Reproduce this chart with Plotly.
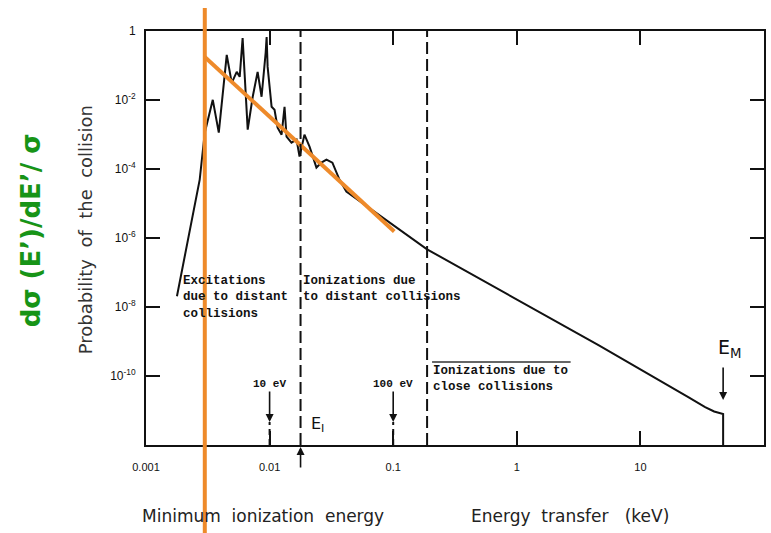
import math
import plotly.graph_objects as go

# ---- data -------------------------------------------------------------
# energy transfer (keV) and collision probability along the curve
energy_kev = [
    0.00178, 0.00272, 0.00299, 0.00347, 0.00388, 0.00450, 0.00494, 0.00542,
    0.00573, 0.00605, 0.00665, 0.00730, 0.00800, 0.00861, 0.00929, 0.00946,
    0.00964, 0.01038, 0.01096, 0.01161, 0.01250, 0.01321, 0.01371, 0.01503,
    0.01652, 0.01746, 0.01914, 0.02104, 0.02393, 0.02624, 0.02884, 0.03221,
    0.03673, 0.04178, 0.188, 0.716, 4.58, 24.4, 33.4, 39.5, 46.7, 46.7,
]
probability = [
    2.05e-8, 4.94e-5, 1.13e-3, 1.01e-2, 1.13e-3, 0.202, 0.0314, 0.0653,
    0.0469, 0.628, 1.38e-3, 0.0124, 0.0653, 0.0124, 0.231, 0.671,
    0.0912, 6.35e-3, 5.21e-3, 1.57e-3, 9.86e-4, 6.35e-3, 8.63e-4, 5.79e-4,
    7.08e-4, 2.28e-4, 9.86e-4, 4.44e-4, 1.10e-4, 1.53e-4, 1.87e-4, 1.53e-4,
    4.94e-5, 2.22e-5, 4.69e-7, 3.27e-8, 7.87e-10, 2.46e-11, 1.26e-11,
    9.35e-12, 7.92e-12, 1.0e-12,
]

# straight-line slope guide and the minimum ionization marker
guide_x = [0.00299, 0.102]
guide_y = [0.177, 1.55e-6]
min_ionization_kev = 0.00299

# region boundaries (keV)
e_i_kev = 0.0178
close_boundary_kev = 0.188
e_m_kev = 46.7
marker_10ev_kev = 0.01
marker_100ev_kev = 0.1

x_tickvals = [0.001, 0.01, 0.1, 1, 10, 100]
x_ticktext = ["0.001", "0.01", "0.1", "1", "10", "100"]
y_tickvals = [1, 1e-2, 1e-4, 1e-6, 1e-8, 1e-10]
y_ticktext = ["1", "10<sup>-2</sup>", "10<sup>-4</sup>", "10<sup>-6</sup>",
              "10<sup>-8</sup>", "10<sup>-10</sup>"]

# ---- layout geometry --------------------------------------------------
W, H = 771, 533
PL, PR, PT, PB = 146, 766, 31, 445


def px(xp):
    return (xp - PL) / (PR - PL)


def py(yp):
    return (PB - yp) / (PB - PT)


ORANGE = "#EE8A2A"
INK = "#111111"
MONO = "Liberation Mono"
NB = "\u00a0"

fig = go.Figure()

fig.add_trace(go.Scatter(
    x=energy_kev, y=probability, mode="lines",
    line=dict(color=INK, width=2), showlegend=False, hoverinfo="skip",
))
fig.add_trace(go.Scatter(
    x=guide_x, y=guide_y, mode="lines",
    line=dict(color=ORANGE, width=4), showlegend=False, hoverinfo="skip",
))

shapes = []
# dashed region boundaries
for xv in (e_i_kev, close_boundary_kev):
    shapes.append(dict(type="line", xref="x", yref="paper", x0=xv, x1=xv,
                       y0=0, y1=1, line=dict(color=INK, width=2, dash="12px,5px")))
# short dashed stubs below the 10 eV / 100 eV arrows
for xv in (marker_10ev_kev, marker_100ev_kev):
    shapes.append(dict(type="line", xref="x", yref="paper", x0=xv, x1=xv,
                       y0=0, y1=py(422), line=dict(color=INK, width=2, dash="6px,4px")))
# vertical minimum-ionization marker
shapes.append(dict(type="line", xref="x", yref="paper",
                   x0=min_ionization_kev, x1=min_ionization_kev,
                   y0=py(533), y1=py(8), line=dict(color=ORANGE, width=4)))
# overline of the "close collisions" label
shapes.append(dict(type="line", xref="paper", yref="paper",
                   x0=px(433), x1=px(572), y0=py(362), y1=py(362),
                   line=dict(color="#333", width=1.5)))

annotations = []


def text(xp, yp, s, size=12.5, family=MONO, color=INK, xanchor="left",
         yanchor="top", angle=0, align="left"):
    annotations.append(dict(
        xref="paper", yref="paper", x=px(xp), y=py(yp), text=s,
        showarrow=False, xanchor=xanchor, yanchor=yanchor, align=align,
        textangle=angle, font=dict(family=family, size=size, color=color),
    ))


def arrow(x_kev, yp, ay, label="", size=11):
    # annotations on a log axis take log10 positions
    annotations.append(dict(
        xref="x", yref="paper", x=math.log10(x_kev), y=py(yp), ax=0, ay=ay,
        text=label, showarrow=True, arrowhead=2, arrowsize=1,
        arrowwidth=1.6, arrowcolor=INK, font=dict(family=MONO, size=size, color=INK),
    ))


text(181, 272, "<b>Excitations<br>due to distant<br>collisions</b>")
text(302, 272, "<b>Ionizations due<br>to distant collisions</b>")
text(432, 362, "<b>Ionizations due to<br>close collisions</b>")

# arrows for 10 eV and 100 eV
arrow(marker_10ev_kev, 422, -38, "<b>10 eV</b>")
arrow(marker_100ev_kev, 422, -38, "<b>100 eV</b>")

# E_M arrow and label
arrow(e_m_kev, 400, -34)
text(732, 348, "E<sub>M</sub>", size=19, family="DejaVu Sans",
     xanchor="center", yanchor="middle")

# E_I arrow below the axis and label
arrow(e_i_kev, 447, 22)
text(318, 424, "E<sub>I</sub>", size=16, family="DejaVu Sans",
     xanchor="center", yanchor="middle")

# axis titles
text(85, 230, f"Probability{NB}{NB}of{NB}{NB}the{NB}{NB}collision", size=18,
     family="DejaVu Sans", color="#333", xanchor="center", yanchor="middle",
     angle=-90)
text(31, 230, "<b>d\u03c3 (E\u2019)/dE\u2019/ \u03c3</b>", size=26,
     family="DejaVu Sans", color="#179417", xanchor="center", yanchor="middle",
     angle=-90)
text(140, 516, f"Minimum{NB} ionization{NB} energy", size=17,
     family="DejaVu Sans", color="#222", yanchor="middle")
text(470, 516, f"Energy{NB} transfer{NB}{NB} (keV)", size=17,
     family="DejaVu Sans", color="#222", yanchor="middle")

fig.update_layout(
    width=W, height=H,
    margin=dict(l=PL, r=W - PR, t=PT, b=H - PB),
    paper_bgcolor="white", plot_bgcolor="white",
    shapes=shapes, annotations=annotations,
    xaxis=dict(
        type="log", range=[-3, 2.0], tickvals=x_tickvals, ticktext=x_ticktext,
        ticks="inside", ticklen=14, tickwidth=2, tickcolor=INK,
        showline=True, linecolor=INK, linewidth=2, mirror="ticks",
        showgrid=False, zeroline=False, ticklabelstandoff=11,
        tickfont=dict(family="Liberation Sans", size=11, color=INK),
    ),
    yaxis=dict(
        type="log", range=[-12, 0], tickvals=y_tickvals, ticktext=y_ticktext,
        ticks="inside", ticklen=14, tickwidth=2, tickcolor=INK,
        showline=True, linecolor=INK, linewidth=2, mirror="ticks",
        showgrid=False, zeroline=False, ticklabelstandoff=6,
        tickfont=dict(family="Liberation Sans", size=12, color=INK),
    ),
)

fig.write_html("out.html")
